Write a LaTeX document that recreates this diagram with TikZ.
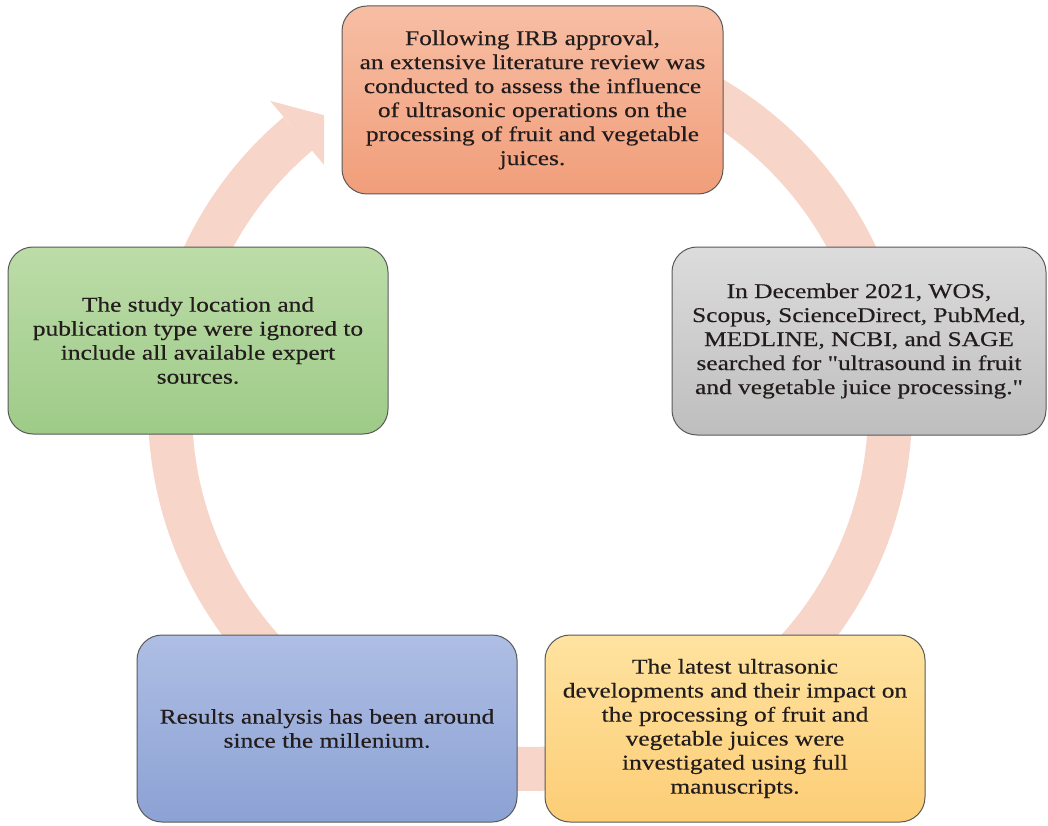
\documentclass[tikz,border=0pt]{standalone}
\usepackage{fontspec}
\setmainfont{Liberation Serif}[FakeStretch=1.21,FakeBold=0.3]
\newfontfamily\qfont{Liberation Serif}[FakeStretch=1.21,FakeBold=0.3]
\newcommand\sdq{{\qfont"}}
\definecolor{arccol}{RGB}{247,213,200}
\definecolor{orTop}{RGB}{247,190,164}
\definecolor{orBot}{RGB}{241,158,122}
\definecolor{gyTop}{RGB}{220,220,220}
\definecolor{gyBot}{RGB}{190,190,190}
\definecolor{grTop}{RGB}{188,220,168}
\definecolor{grBot}{RGB}{158,203,136}
\definecolor{blTop}{RGB}{174,190,228}
\definecolor{blBot}{RGB}{140,162,212}
\definecolor{ylTop}{RGB}{255,227,160}
\definecolor{ylBot}{RGB}{252,205,118}
\definecolor{txt}{RGB}{35,28,28}
\begin{document}
\begin{tikzpicture}[x=1pt,y=-1pt,
  box/.style={draw=black!65, line width=1pt, rounded corners=25pt,
    inner sep=0pt, outer sep=0pt, align=center, text=txt,
    font=\fontsize{21}{24}\selectfont},
  band/.style={draw=arccol, line width=44pt},
  head/.style={fill=arccol}]
\useasboundingbox (0,0) rectangle (1048,826);
% cycle arrow
\coordinate (base) at (297.9,133.8);
\coordinate (hA) at (270.2,100.9);
\coordinate (hT) at (346,121);
\coordinate (hC) at (325.6,166.7);
\draw[band] (base) arc[start angle=229.85, end angle=-80, radius=360];
\begin{scope}
  \clip (0,0) rectangle (324,826);
  \fill[head] (hA) -- (hT) -- (hC) -- cycle;
\end{scope}
% boxes
\node[box, top color=orTop, bottom color=orBot, minimum width=381pt, minimum height=188pt]
  (review) at (532.5,100) {Following IRB approval,\\an extensive literature review was\\conducted to assess the influence\\of ultrasonic operations on the\\processing of fruit and vegetable\\juices.};
\node[box, top color=gyTop, bottom color=gyBot, minimum width=374pt, minimum height=188pt]
  (search) at (859,341) {In December 2021, WOS,\\Scopus, ScienceDirect, PubMed,\\MEDLINE, NCBI, and SAGE\\searched for \sdq ultrasound in fruit\\and vegetable juice processing.\sdq};
\node[box, top color=ylTop, bottom color=ylBot, minimum width=380pt, minimum height=187pt]
  (latest) at (735,728.5) {The latest ultrasonic\\developments and their impact on\\the processing of fruit and\\vegetable juices were\\investigated using full\\manuscripts.};
\node[box, top color=blTop, bottom color=blBot, minimum width=380pt, minimum height=187pt]
  (results) at (327,728.5) {Results analysis has been around\\since the millenium.};
\node[box, top color=grTop, bottom color=grBot, minimum width=380pt, minimum height=187pt]
  (study) at (198,340.5) {The study location and\\publication type were ignored to\\include all available expert\\sources.};
\end{tikzpicture}
\end{document}
